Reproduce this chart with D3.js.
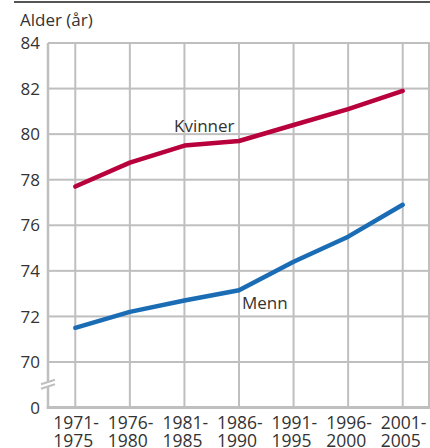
<!DOCTYPE html>
<html>
<head>
<meta charset="utf-8">
<script src="https://cdn.jsdelivr.net/npm/d3@7"></script>
<style>
  body { margin: 0; background: #fff; }
  svg { display: block; font-family: "Open Sans", sans-serif; }
</style>
</head>
<body>
<div id="chart"></div>
<script>
// perioder (to linjer per etikett)
var periods = ["1971-1975", "1976-1980", "1981-1985", "1986-1990", "1991-1995", "1996-2000", "2001-2005"];
var kvinner = [77.7, 78.75, 79.5, 79.7, 80.4, 81.1, 81.9];
var menn = [71.5, 72.2, 72.7, 73.15, 74.4, 75.5, 76.9];
var yTicks = [0, 70, 72, 74, 76, 78, 80, 82, 84];

var W = 430, H = 448;
var plotLeft = 48, plotRight = 430;

var svg = d3.select("#chart").append("svg")
    .attr("width", W)
    .attr("height", H);

var x = d3.scalePoint()
    .domain(periods)
    .range([plotLeft, plotRight])
    .padding(0.5);

// brutt akse: 0 ligger ett steg under 70
var y = d3.scaleLinear()
    .domain([0, 70, 84])
    .range([407.5, 362, 43]);

var gridColor = "#bfbfbf";

// topplinje
svg.append("rect")
    .attr("x", 14).attr("y", 1)
    .attr("width", 416).attr("height", 2)
    .attr("fill", "#555");

// horisontale gridlinjer
svg.append("g").selectAll("rect")
    .data(yTicks.filter(function(d) { return d >= 70; }))
    .enter().append("rect")
    .attr("x", plotLeft)
    .attr("y", function(d) { return y(d) - 1; })
    .attr("width", plotRight - plotLeft)
    .attr("height", 2)
    .attr("fill", gridColor);

// vertikale gridlinjer
svg.append("g").selectAll("rect")
    .data(periods)
    .enter().append("rect")
    .attr("x", function(d) { return x(d) - 1; })
    .attr("y", y(84))
    .attr("width", 2)
    .attr("height", y(0) - y(84))
    .attr("fill", gridColor);

svg.append("rect")
    .attr("x", plotRight - 2).attr("y", y(84))
    .attr("width", 2).attr("height", y(0) - y(84))
    .attr("fill", gridColor);

// akser
svg.append("rect")
    .attr("x", plotLeft - 1.25).attr("y", y(84))
    .attr("width", 2.5).attr("height", y(0) - y(84) + 1.5)
    .attr("fill", gridColor);
svg.append("rect")
    .attr("x", plotLeft - 1.25).attr("y", y(0) - 1.5)
    .attr("width", plotRight - plotLeft + 1.25).attr("height", 3)
    .attr("fill", gridColor);

// bruddmarkering
var brk = svg.append("g").attr("transform", "translate(" + plotLeft + "," + 384 + ")");
brk.append("path")
    .attr("d", "M-7,0 L7,-4.5 L7,0.5 L-7,5 Z")
    .attr("fill", "#fff");
brk.selectAll("line")
    .data([-2, 2.5])
    .enter().append("line")
    .attr("x1", -7).attr("x2", 7)
    .attr("y1", function(d) { return d + 2.2; })
    .attr("y2", function(d) { return d - 2.2; })
    .attr("stroke", gridColor).attr("stroke-width", 2);

svg.append("text")
    .attr("x", 20).attr("y", 26)
    .attr("font-size", 17)
    .attr("fill", "#333")
    .text("Alder (år)");

// y-etiketter
svg.append("g").selectAll("text")
    .data(yTicks)
    .enter().append("text")
    .attr("x", 40)
    .attr("y", function(d) { return y(d); })
    .attr("dy", "0.36em")
    .attr("text-anchor", "end")
    .attr("font-size", 17)
    .attr("fill", "#333")
    .text(function(d) { return d; });

// x-etiketter
var xl = svg.append("g").selectAll("text")
    .data(periods)
    .enter().append("text")
    .attr("font-size", 17.5)
    .attr("fill", "#333");
xl.append("tspan")
    .attr("x", function(d) { return x(d) - 22; })
    .attr("y", 429)
    .text(function(d) { return d.split("-")[0] + "-"; });
xl.append("tspan")
    .attr("x", function(d) { return x(d) - 22; })
    .attr("y", 447)
    .text(function(d) { return d.split("-")[1]; });

// linjer
var line = d3.line()
    .x(function(d, i) { return x(periods[i]); })
    .y(function(d) { return y(d); });

svg.append("path")
    .datum(kvinner)
    .attr("fill", "none")
    .attr("stroke", "#b8003c")
    .attr("stroke-width", 4.5)
    .attr("stroke-linecap", "round")
    .attr("stroke-linejoin", "round")
    .attr("d", line);

svg.append("path")
    .datum(menn)
    .attr("fill", "none")
    .attr("stroke", "#1a6db5")
    .attr("stroke-width", 4.5)
    .attr("stroke-linecap", "round")
    .attr("stroke-linejoin", "round")
    .attr("d", line);

svg.append("text")
    .attr("x", 174).attr("y", 132)
    .attr("font-size", 17)
    .attr("fill", "#333")
    .text("Kvinner");

svg.append("text")
    .attr("x", 242).attr("y", 309)
    .attr("font-size", 17)
    .attr("fill", "#333")
    .text("Menn");
</script>
</body>
</html>
